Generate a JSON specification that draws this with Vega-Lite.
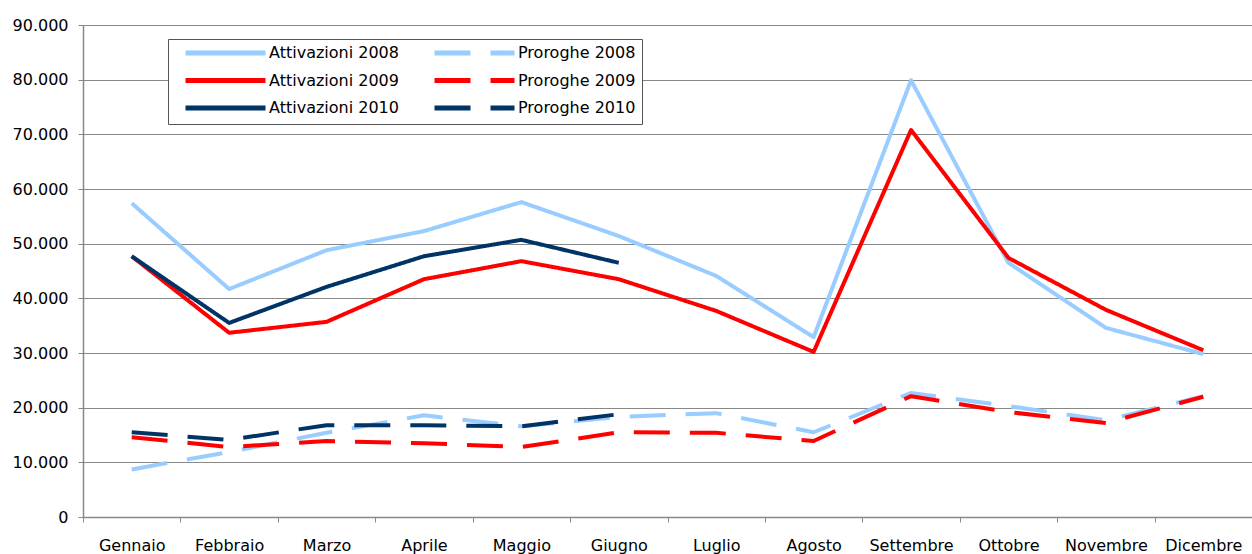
{
  "$schema": "https://vega.github.io/schema/vega-lite/v6.json",
  "autosize": "none",
  "width": 1169,
  "height": 492,
  "padding": {"left": 83, "top": 25, "right": 0, "bottom": 37},
  "background": "white",
  "config": {
    "view": {"stroke": null},
    "font": "DejaVu Sans"
  },
  "data": {
    "values": [
      {"mese": "Gennaio", "serie": "Attivazioni 2008", "valore": 57400},
      {"mese": "Febbraio", "serie": "Attivazioni 2008", "valore": 41700},
      {"mese": "Marzo", "serie": "Attivazioni 2008", "valore": 48800},
      {"mese": "Aprile", "serie": "Attivazioni 2008", "valore": 52300},
      {"mese": "Maggio", "serie": "Attivazioni 2008", "valore": 57600},
      {"mese": "Giugno", "serie": "Attivazioni 2008", "valore": 51400},
      {"mese": "Luglio", "serie": "Attivazioni 2008", "valore": 44100},
      {"mese": "Agosto", "serie": "Attivazioni 2008", "valore": 32900},
      {"mese": "Settembre", "serie": "Attivazioni 2008", "valore": 79900},
      {"mese": "Ottobre", "serie": "Attivazioni 2008", "valore": 46500},
      {"mese": "Novembre", "serie": "Attivazioni 2008", "valore": 34600},
      {"mese": "Dicembre", "serie": "Attivazioni 2008", "valore": 29800},
      {"mese": "Gennaio", "serie": "Attivazioni 2009", "valore": 47700},
      {"mese": "Febbraio", "serie": "Attivazioni 2009", "valore": 33700},
      {"mese": "Marzo", "serie": "Attivazioni 2009", "valore": 35700},
      {"mese": "Aprile", "serie": "Attivazioni 2009", "valore": 43500},
      {"mese": "Maggio", "serie": "Attivazioni 2009", "valore": 46800},
      {"mese": "Giugno", "serie": "Attivazioni 2009", "valore": 43500},
      {"mese": "Luglio", "serie": "Attivazioni 2009", "valore": 37700},
      {"mese": "Agosto", "serie": "Attivazioni 2009", "valore": 30200},
      {"mese": "Settembre", "serie": "Attivazioni 2009", "valore": 70800},
      {"mese": "Ottobre", "serie": "Attivazioni 2009", "valore": 47400},
      {"mese": "Novembre", "serie": "Attivazioni 2009", "valore": 37900},
      {"mese": "Dicembre", "serie": "Attivazioni 2009", "valore": 30500},
      {"mese": "Gennaio", "serie": "Attivazioni 2010", "valore": 47700},
      {"mese": "Febbraio", "serie": "Attivazioni 2010", "valore": 35500},
      {"mese": "Marzo", "serie": "Attivazioni 2010", "valore": 42100},
      {"mese": "Aprile", "serie": "Attivazioni 2010", "valore": 47700},
      {"mese": "Maggio", "serie": "Attivazioni 2010", "valore": 50700},
      {"mese": "Giugno", "serie": "Attivazioni 2010", "valore": 46500},
      {"mese": "Gennaio", "serie": "Proroghe 2008", "valore": 8700},
      {"mese": "Febbraio", "serie": "Proroghe 2008", "valore": 11900},
      {"mese": "Marzo", "serie": "Proroghe 2008", "valore": 15400},
      {"mese": "Aprile", "serie": "Proroghe 2008", "valore": 18600},
      {"mese": "Maggio", "serie": "Proroghe 2008", "valore": 16600},
      {"mese": "Giugno", "serie": "Proroghe 2008", "valore": 18300},
      {"mese": "Luglio", "serie": "Proroghe 2008", "valore": 19000},
      {"mese": "Agosto", "serie": "Proroghe 2008", "valore": 15500},
      {"mese": "Settembre", "serie": "Proroghe 2008", "valore": 22700},
      {"mese": "Ottobre", "serie": "Proroghe 2008", "valore": 20300},
      {"mese": "Novembre", "serie": "Proroghe 2008", "valore": 17700},
      {"mese": "Dicembre", "serie": "Proroghe 2008", "valore": 22100},
      {"mese": "Gennaio", "serie": "Proroghe 2009", "valore": 14600},
      {"mese": "Febbraio", "serie": "Proroghe 2009", "valore": 12800},
      {"mese": "Marzo", "serie": "Proroghe 2009", "valore": 13900},
      {"mese": "Aprile", "serie": "Proroghe 2009", "valore": 13500},
      {"mese": "Maggio", "serie": "Proroghe 2009", "valore": 12800},
      {"mese": "Giugno", "serie": "Proroghe 2009", "valore": 15500},
      {"mese": "Luglio", "serie": "Proroghe 2009", "valore": 15400},
      {"mese": "Agosto", "serie": "Proroghe 2009", "valore": 13900},
      {"mese": "Settembre", "serie": "Proroghe 2009", "valore": 22100},
      {"mese": "Ottobre", "serie": "Proroghe 2009", "valore": 19200},
      {"mese": "Novembre", "serie": "Proroghe 2009", "valore": 17200},
      {"mese": "Dicembre", "serie": "Proroghe 2009", "valore": 22000},
      {"mese": "Gennaio", "serie": "Proroghe 2010", "valore": 15500},
      {"mese": "Febbraio", "serie": "Proroghe 2010", "valore": 14100},
      {"mese": "Marzo", "serie": "Proroghe 2010", "valore": 16800},
      {"mese": "Aprile", "serie": "Proroghe 2010", "valore": 16800},
      {"mese": "Maggio", "serie": "Proroghe 2010", "valore": 16600},
      {"mese": "Giugno", "serie": "Proroghe 2010", "valore": 18800}
    ]
  },
  "mark": {"type": "line", "strokeWidth": 4, "strokeCap": "butt", "strokeJoin": "round"},
  "encoding": {
    "x": {
      "field": "mese",
      "type": "nominal",
      "sort": ["Gennaio", "Febbraio", "Marzo", "Aprile", "Maggio", "Giugno", "Luglio", "Agosto", "Settembre", "Ottobre", "Novembre", "Dicembre"],
      "scale": {"type": "band", "paddingInner": 0, "paddingOuter": 0},
      "axis": {
        "title": null,
        "labelAngle": 0,
        "labelFont": "DejaVu Sans",
        "labelFontSize": 16,
        "labelColor": "#000000",
        "labelPadding": 15,
        "tickBand": "extent",
        "tickSize": 5,
        "tickColor": "#888888",
        "domainColor": "#888888",
        "domainWidth": 1.5,
        "grid": false
      }
    },
    "y": {
      "field": "valore",
      "type": "quantitative",
      "scale": {"domain": [0, 90000], "nice": false},
      "axis": {
        "title": null,
        "values": [0, 10000, 20000, 30000, 40000, 50000, 60000, 70000, 80000, 90000],
        "labelExpr": "replace(format(datum.value, ',d'), ',', '.')",
        "labelFont": "DejaVu Sans",
        "labelFontSize": 16,
        "labelColor": "#000000",
        "labelPadding": 10,
        "tickSize": 5,
        "tickColor": "#888888",
        "domainColor": "#888888",
        "domainWidth": 1.5,
        "grid": true,
        "gridColor": "#888888",
        "gridWidth": 1
      }
    },
    "color": {
      "field": "serie",
      "type": "nominal",
      "scale": {
        "domain": ["Attivazioni 2008", "Attivazioni 2009", "Attivazioni 2010", "Proroghe 2008", "Proroghe 2009", "Proroghe 2010"],
        "range": ["#99CCFF", "#FF0000", "#003366", "#99CCFF", "#FF0000", "#003366"]
      },
      "legend": {
        "title": null,
        "orient": "none",
        "legendX": 85,
        "legendY": 14,
        "columns": 2,
        "columnPadding": 24,
        "rowPadding": 7.5,
        "gridAlign": "all",
        "padding": 6,
        "strokeColor": "#555555",
        "fillColor": "#ffffff",
        "symbolType": "M0.7,0H16.7",
        "symbolSize": 100,
        "symbolStrokeWidth": 5,
        "labelFont": "DejaVu Sans",
        "labelFontSize": 16,
        "labelColor": "#000000",
        "labelOffset": 79,
        "labelLimit": 300
      }
    },
    "strokeDash": {
      "field": "serie",
      "type": "nominal",
      "scale": {
        "domain": ["Attivazioni 2008", "Attivazioni 2009", "Attivazioni 2010", "Proroghe 2008", "Proroghe 2009", "Proroghe 2010"],
        "range": [[1, 0], [1, 0], [1, 0], [36, 20], [36, 20], [36, 20]]
      }
    }
  }
}
